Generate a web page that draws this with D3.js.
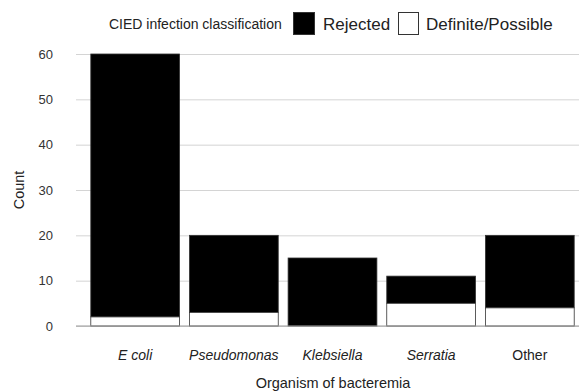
<!DOCTYPE html>
<html>
<head>
<meta charset="utf-8">
<script src="https://cdn.jsdelivr.net/npm/d3@7"></script>
<style>
  body { margin: 0; background: #fff; }
  svg { display: block; font-family: "Liberation Sans", Arial, sans-serif; }
  .grid line { stroke: #d4d4d4; stroke-width: 1; }
  .grid .domain { display: none; }
  .axis-y text { fill: #333; font-size: 13px; }
</style>
</head>
<body>
<div id="chart"></div>
<script>
// data
const organisms = ['E coli', 'Pseudomonas', 'Klebsiella', 'Serratia', 'Other'];
const italicOrganisms = ['E coli', 'Pseudomonas', 'Klebsiella', 'Serratia'];
const definitePossible = [2, 3, 0, 5, 4];
const rejected = [58, 17, 15, 6, 16];
const yTicks = [0, 10, 20, 30, 40, 50, 60];
const legendLabels = ['Rejected', 'Definite/Possible'];

const width = 579;
const height = 392;

const svg = d3.select('#chart').append('svg')
  .attr('width', width)
  .attr('height', height);

// scales
const scaleX = d3.scaleBand()
  .domain(organisms)
  .range([76, 589])
  .paddingInner(0.1)
  .paddingOuter(0.15);

const scaleY = d3.scaleLinear()
  .domain([0, 60])
  .range([326, 54]);

// gridlines
svg.append('g')
  .attr('class', 'grid')
  .attr('transform', 'translate(76,0)')
  .call(d3.axisLeft(scaleY).tickValues(yTicks).tickSize(-(width - 76)).tickFormat(''));

// y tick labels
svg.append('g')
  .attr('class', 'axis-y')
  .selectAll('text')
  .data(yTicks)
  .enter()
  .append('text')
  .attr('x', 53)
  .attr('y', d => scaleY(d))
  .attr('dy', '0.35em')
  .attr('text-anchor', 'end')
  .text(d => d);

// stacked bars
const rows = organisms.map((o, i) => ({
  key: o,
  definite: definitePossible[i],
  rejected: rejected[i]
}));

const $vis = svg.append('g');

$vis.selectAll('rect.rejected')
  .data(rows)
  .enter()
  .append('rect')
  .attr('class', 'rejected')
  .attr('x', d => scaleX(d.key))
  .attr('width', scaleX.bandwidth())
  .attr('y', d => scaleY(d.definite + d.rejected))
  .attr('height', d => scaleY(d.definite) - scaleY(d.definite + d.rejected))
  .attr('fill', '#000')
  .attr('stroke', '#333')
  .attr('stroke-width', 0.8);

$vis.selectAll('rect.definite')
  .data(rows.filter(d => d.definite > 0))
  .enter()
  .append('rect')
  .attr('class', 'definite')
  .attr('x', d => scaleX(d.key))
  .attr('width', scaleX.bandwidth())
  .attr('y', d => scaleY(d.definite))
  .attr('height', d => scaleY(0) - scaleY(d.definite))
  .attr('fill', '#fff')
  .attr('stroke', '#333')
  .attr('stroke-width', 0.8);

// baseline
svg.append('line')
  .attr('x1', 76)
  .attr('x2', width)
  .attr('y1', scaleY(0))
  .attr('y2', scaleY(0))
  .attr('stroke', '#999')
  .attr('stroke-width', 1);

// x labels
svg.append('g')
  .selectAll('text')
  .data(organisms)
  .enter()
  .append('text')
  .attr('x', d => scaleX(d) + scaleX.bandwidth() / 2)
  .attr('y', 360)
  .attr('text-anchor', 'middle')
  .attr('font-size', 14)
  .attr('fill', '#222')
  .attr('font-style', d => italicOrganisms.includes(d) ? 'italic' : 'normal')
  .text(d => d);

// axis titles
svg.append('text')
  .attr('x', 333)
  .attr('y', 388)
  .attr('text-anchor', 'middle')
  .attr('font-size', 14.5)
  .attr('fill', '#222')
  .text('Organism of bacteremia');

svg.append('text')
  .attr('transform', 'translate(24,190) rotate(-90)')
  .attr('text-anchor', 'middle')
  .attr('font-size', 14.5)
  .attr('fill', '#222')
  .text('Count');

// legend
const $legend = svg.append('g');
$legend.append('text')
  .attr('x', 109)
  .attr('y', 29)
  .attr('font-size', 14)
  .attr('fill', '#222')
  .text('CIED infection classification');

$legend.append('rect')
  .attr('x', 293.5).attr('y', 12.5).attr('width', 21).attr('height', 22)
  .attr('fill', '#000').attr('stroke', '#333');
$legend.append('text')
  .attr('x', 323).attr('y', 30)
  .attr('font-size', 17).attr('fill', '#222')
  .text(legendLabels[0]);

$legend.append('rect')
  .attr('x', 398.5).attr('y', 12.5).attr('width', 20).attr('height', 22)
  .attr('fill', '#fff').attr('stroke', '#333');
$legend.append('text')
  .attr('x', 426).attr('y', 30)
  .attr('font-size', 17).attr('fill', '#222')
  .text(legendLabels[1]);
</script>
</body>
</html>
